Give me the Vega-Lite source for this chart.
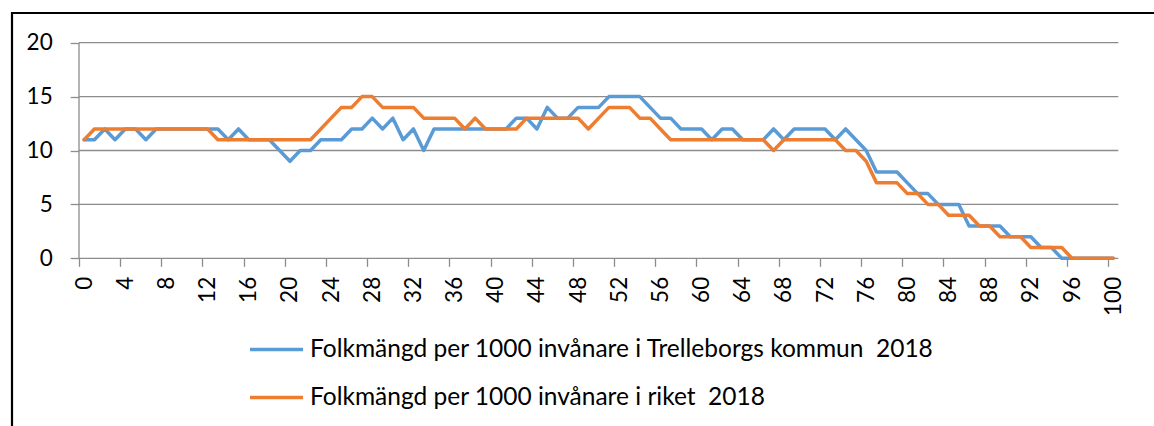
{
  "$schema": "https://vega.github.io/schema/vega-lite/v6.json",
  "width": 1145,
  "height": 420,
  "autosize": {"type": "none"},
  "padding": {"left": 12, "top": 13, "right": 0, "bottom": 0},
  "background": "white",
  "config": {
    "view": {"stroke": "#000000", "strokeWidth": 2.2},
    "font": "Lato",
    "axis": {"grid": false, "domain": false, "title": null, "labelFont": "Lato", "labelFontSize": 22.5, "labelColor": "#000000", "tickColor": "#8c8c8c", "tickWidth": 1.3},
    "axisX": {"offset": -174.7, "tickSize": 8, "labelAngle": 270, "labelPadding": 10, "labelOffset": 5.145, "labelOverlap": false, "labelBound": false, "labelFlush": false},
    "axisY": {"offset": -66.7, "tickSize": 8.5, "labelPadding": 18},
    "legend": {"labelFont": "Lato", "labelFontSize": 24.5, "labelColor": "#000000", "labelLimit": 0}
  },
  "data": {"values": [
    {"age":0,"T":11,"R":11},{"age":1,"T":11,"R":12},{"age":2,"T":12,"R":12},{"age":3,"T":11,"R":12},{"age":4,"T":12,"R":12},
    {"age":5,"T":12,"R":12},{"age":6,"T":11,"R":12},{"age":7,"T":12,"R":12},{"age":8,"T":12,"R":12},{"age":9,"T":12,"R":12},
    {"age":10,"T":12,"R":12},{"age":11,"T":12,"R":12},{"age":12,"T":12,"R":12},{"age":13,"T":12,"R":11},{"age":14,"T":11,"R":11},
    {"age":15,"T":12,"R":11},{"age":16,"T":11,"R":11},{"age":17,"T":11,"R":11},{"age":18,"T":11,"R":11},{"age":19,"T":10,"R":11},
    {"age":20,"T":9,"R":11},{"age":21,"T":10,"R":11},{"age":22,"T":10,"R":11},{"age":23,"T":11,"R":12},{"age":24,"T":11,"R":13},
    {"age":25,"T":11,"R":14},{"age":26,"T":12,"R":14},{"age":27,"T":12,"R":15},{"age":28,"T":13,"R":15},{"age":29,"T":12,"R":14},
    {"age":30,"T":13,"R":14},{"age":31,"T":11,"R":14},{"age":32,"T":12,"R":14},{"age":33,"T":10,"R":13},{"age":34,"T":12,"R":13},
    {"age":35,"T":12,"R":13},{"age":36,"T":12,"R":13},{"age":37,"T":12,"R":12},{"age":38,"T":12,"R":13},{"age":39,"T":12,"R":12},
    {"age":40,"T":12,"R":12},{"age":41,"T":12,"R":12},{"age":42,"T":13,"R":12},{"age":43,"T":13,"R":13},{"age":44,"T":12,"R":13},
    {"age":45,"T":14,"R":13},{"age":46,"T":13,"R":13},{"age":47,"T":13,"R":13},{"age":48,"T":14,"R":13},{"age":49,"T":14,"R":12},
    {"age":50,"T":14,"R":13},{"age":51,"T":15,"R":14},{"age":52,"T":15,"R":14},{"age":53,"T":15,"R":14},{"age":54,"T":15,"R":13},
    {"age":55,"T":14,"R":13},{"age":56,"T":13,"R":12},{"age":57,"T":13,"R":11},{"age":58,"T":12,"R":11},{"age":59,"T":12,"R":11},
    {"age":60,"T":12,"R":11},{"age":61,"T":11,"R":11},{"age":62,"T":12,"R":11},{"age":63,"T":12,"R":11},{"age":64,"T":11,"R":11},
    {"age":65,"T":11,"R":11},{"age":66,"T":11,"R":11},{"age":67,"T":12,"R":10},{"age":68,"T":11,"R":11},{"age":69,"T":12,"R":11},
    {"age":70,"T":12,"R":11},{"age":71,"T":12,"R":11},{"age":72,"T":12,"R":11},{"age":73,"T":11,"R":11},{"age":74,"T":12,"R":10},
    {"age":75,"T":11,"R":10},{"age":76,"T":10,"R":9},{"age":77,"T":8,"R":7},{"age":78,"T":8,"R":7},{"age":79,"T":8,"R":7},
    {"age":80,"T":7,"R":6},{"age":81,"T":6,"R":6},{"age":82,"T":6,"R":5},{"age":83,"T":5,"R":5},{"age":84,"T":5,"R":4},
    {"age":85,"T":5,"R":4},{"age":86,"T":3,"R":4},{"age":87,"T":3,"R":3},{"age":88,"T":3,"R":3},{"age":89,"T":3,"R":2},
    {"age":90,"T":2,"R":2},{"age":91,"T":2,"R":2},{"age":92,"T":2,"R":1},{"age":93,"T":1,"R":1},{"age":94,"T":1,"R":1},
    {"age":95,"T":0,"R":1},{"age":96,"T":0,"R":0},{"age":97,"T":0,"R":0},{"age":98,"T":0,"R":0},{"age":99,"T":0,"R":0},
    {"age":100,"T":0,"R":0}
  ]},
  "layer": [
    {
      "data": {"values": [{}]},
      "mark": {"type": "rule", "color": "#8c8c8c", "strokeWidth": 1.3},
      "encoding": {"x": {"datum": -0.5, "type": "quantitative", "title": null}, "x2": {"datum": 100.5}, "y": {"datum": 5, "type": "quantitative", "title": null}}
    },
    {
      "data": {"values": [{}]},
      "mark": {"type": "rule", "color": "#8c8c8c", "strokeWidth": 1.3},
      "encoding": {"x": {"datum": -0.5, "type": "quantitative", "title": null}, "x2": {"datum": 100.5}, "y": {"datum": 10, "type": "quantitative", "title": null}}
    },
    {
      "data": {"values": [{}]},
      "mark": {"type": "rule", "color": "#8c8c8c", "strokeWidth": 1.3},
      "encoding": {"x": {"datum": -0.5, "type": "quantitative", "title": null}, "x2": {"datum": 100.5}, "y": {"datum": 15, "type": "quantitative", "title": null}}
    },
    {
      "data": {"values": [{}]},
      "mark": {"type": "rule", "color": "#8c8c8c", "strokeWidth": 1.3},
      "encoding": {"x": {"datum": -0.5, "type": "quantitative", "title": null}, "x2": {"datum": 100.5}, "y": {"datum": 20, "type": "quantitative", "title": null}}
    },
    {
      "data": {"values": [{}]},
      "mark": {"type": "rule", "color": "#8c8c8c", "strokeWidth": 1.3},
      "encoding": {"x": {"datum": -0.5, "type": "quantitative", "title": null}, "x2": {"datum": 100.5}, "y": {"datum": 0, "type": "quantitative", "title": null}}
    },
    {
      "data": {"values": [{}]},
      "mark": {"type": "rule", "color": "#8c8c8c", "strokeWidth": 1.3},
      "encoding": {"x": {"datum": -0.5, "type": "quantitative", "title": null}, "y": {"datum": 0, "type": "quantitative", "title": null}, "y2": {"datum": 20}}
    },
    {
      "transform": [{"fold": ["T", "R"], "as": ["serie", "value"]}],
      "mark": {"type": "line", "strokeWidth": 3.5, "strokeJoin": "round", "strokeCap": "round"},
      "encoding": {
        "x": {
          "field": "age", "type": "quantitative", "title": null,
          "scale": {"domain": [-7.011, 104.26], "nice": false, "zero": false},
          "axis": {
            "values": [-0.5,0.5,1.5,2.5,3.5,4.5,5.5,6.5,7.5,8.5,9.5,10.5,11.5,12.5,13.5,14.5,15.5,16.5,17.5,18.5,19.5,20.5,21.5,22.5,23.5,24.5,25.5,26.5,27.5,28.5,29.5,30.5,31.5,32.5,33.5,34.5,35.5,36.5,37.5,38.5,39.5,40.5,41.5,42.5,43.5,44.5,45.5,46.5,47.5,48.5,49.5,50.5,51.5,52.5,53.5,54.5,55.5,56.5,57.5,58.5,59.5,60.5,61.5,62.5,63.5,64.5,65.5,66.5,67.5,68.5,69.5,70.5,71.5,72.5,73.5,74.5,75.5,76.5,77.5,78.5,79.5,80.5,81.5,82.5,83.5,84.5,85.5,86.5,87.5,88.5,89.5,90.5,91.5,92.5,93.5,94.5,95.5,96.5,97.5,98.5,99.5,100.5],
            "labelExpr": "(datum.value + 0.5) % 4 === 0 && datum.value < 100 ? '' + (datum.value + 0.5) : ''"
          }
        },
        "y": {
          "field": "value", "type": "quantitative", "title": null,
          "scale": {"domain": [-16.205, 22.755], "nice": false, "zero": false},
          "axis": {"values": [0, 5, 10, 15, 20]}
        },
        "color": {
          "field": "serie", "type": "nominal", "sort": ["T", "R"],
          "scale": {"domain": ["T", "R"], "range": ["#5B9BD5", "#ED7D31"]},
          "legend": {
            "title": null, "orient": "none", "legendX": 236, "legendY": 308, "direction": "vertical",
            "symbolType": "stroke", "symbolSize": 2809, "symbolStrokeWidth": 3.5, "labelOffset": 5, "rowPadding": 8, "padding": 0,
            "labelExpr": "datum.value == 'T' ? 'Folkmängd per 1000 invånare i Trelleborgs kommun \u00a02018' : 'Folkmängd per 1000 invånare i riket \u00a02018'"
          }
        }
      }
    }
  ]
}
